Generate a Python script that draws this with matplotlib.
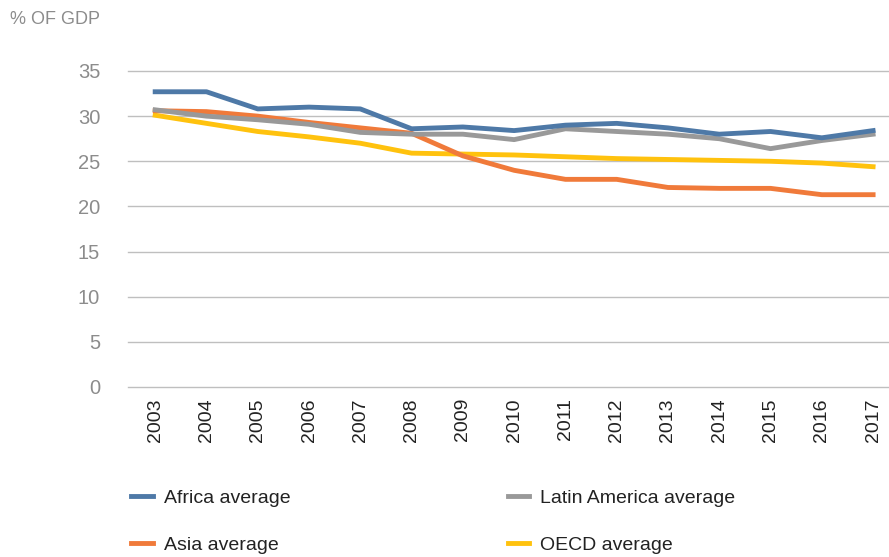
import matplotlib.pyplot as plt

years = [str(y) for y in range(2003, 2018)]
africa = [32.7, 32.7, 30.8, 31.0, 30.8, 28.6, 28.8, 28.4, 29.0, 29.2, 28.7, 28.0, 28.3, 27.6, 28.4]
asia = [30.6, 30.5, 30.0, 29.3, 28.7, 28.1, 25.6, 24.0, 23.0, 23.0, 22.1, 22.0, 22.0, 21.3, 21.3]
latam = [30.7, 30.0, 29.6, 29.1, 28.2, 28.0, 28.0, 27.4, 28.6, 28.3, 28.0, 27.5, 26.4, 27.3, 28.0]
oecd = [30.1, 29.2, 28.3, 27.7, 27.0, 25.9, 25.8, 25.7, 25.5, 25.3, 25.2, 25.1, 25.0, 24.8, 24.4]

plt.rcParams['font.family'] = ['Liberation Sans', 'DejaVu Sans']

text_color = '#8c8c8c'
grid_color = '#bfbfbf'

fig = plt.figure(figsize=(8.89, 5.57), dpi=100)
ax = fig.add_axes([128 / 889, 1 - 387 / 557, 761 / 889, (387 - 71) / 557])

x = list(range(len(years)))
ax.plot(x, oecd, color='#ffc20e', lw=3.5, zorder=3, label='OECD average')
ax.plot(x, asia, color='#f07a3a', lw=3.5, zorder=4, label='Asia average')
ax.plot(x, latam, color='#999999', lw=3.5, zorder=5, label='Latin America average')
ax.plot(x, africa, color='#4e79a7', lw=3.5, zorder=6, label='Africa average')

ax.set_ylim(0, 35)
ax.set_xlim(-0.53, 14.31)
ax.set_yticks(range(0, 36, 5))
ax.set_xticks(x)
ax.set_xticklabels(years, rotation=90)
ax.grid(axis='y', color=grid_color, lw=1)
for gl in ax.get_ygridlines():
    gl.set_clip_on(False)
ax.set_axisbelow(True)
for s in ax.spines.values():
    s.set_visible(False)
ax.tick_params(axis='y', length=0, pad=20, labelsize=14.5, labelcolor=text_color)
ax.tick_params(axis='x', length=0, pad=8, labelsize=14, labelcolor='#222222')

fig.text(10 / 889, 1 - 20 / 557, '% OF GDP', color=text_color, fontsize=13, va='center', ha='left')

handles, labels = ax.get_legend_handles_labels()
order = ['Africa average', 'Asia average', 'Latin America average', 'OECD average']
hs = [handles[labels.index(o)] for o in order]
leg = fig.legend(hs, order, ncol=2, loc='upper left', bbox_to_anchor=(114 / 889, 1 - 472 / 557),
                 frameon=False, fontsize=14, handlelength=1.1, handletextpad=0.55,
                 columnspacing=11.2, labelspacing=1.5)
for t in leg.get_texts():
    t.set_color('#222222')

fig.savefig('out.png', dpi=100)
